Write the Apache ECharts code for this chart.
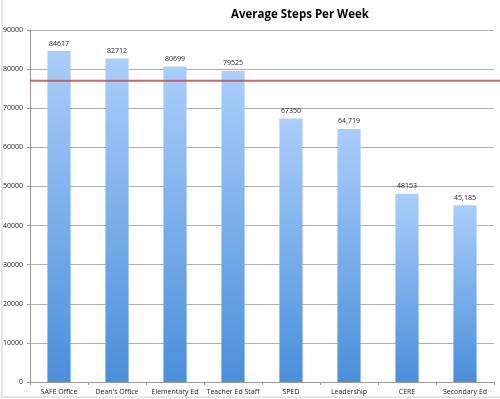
<!DOCTYPE html>
<html><head><meta charset="utf-8">
<script src="https://cdn.jsdelivr.net/npm/echarts@6/dist/echarts.min.js"></script>
<style>html,body{margin:0;padding:0;background:#fff}#c{width:500px;height:399px}</style>
</head><body><div id="c"></div>
<script>
const categories = ["SAFE Office","Dean's Office","Elementary Ed","Teacher Ed Staff","SPED","Leadership","CERE","Secondary Ed"];
const values = [84617, 82712, 80699, 79525, 67350, 64719, 48153, 45185];
const labels = ["84617","82712","80699","79525","67350","64,719","48153","45,185"];
const goal = [77000];
const chart = echarts.init(document.getElementById('c'));
chart.setOption({
  animation:false,
  title:{text:'Average Steps Per Week', left:295, top:4, textAlign:'center',
    textStyle:{fontFamily:'Open Sans', fontWeight:'bold', fontSize:11.5, color:'#000'}},
  grid:{left:30, right:6, top:30, bottom:17, containLabel:false},
  xAxis:{type:'category', data:categories,
    axisLine:{lineStyle:{color:'#999'}},
    axisTick:{show:true, length:3, lineStyle:{color:'#999'}},
    axisLabel:{fontFamily:'Open Sans', fontSize:7, color:'#222', margin:6, interval:0}},
  yAxis:{type:'value', min:0, max:90000, interval:10000,
    axisLine:{show:true, lineStyle:{color:'#999'}},
    axisTick:{show:true, length:3, lineStyle:{color:'#999'}},
    splitLine:{lineStyle:{color:'#b0b0b0'}},
    axisLabel:{fontFamily:'Open Sans', fontSize:7, color:'#222', margin:7, formatter:v=>String(v)}},
  series:[{type:'bar', data:values, barWidth:'40%',
    itemStyle:{color:new echarts.graphic.LinearGradient(0,0,0,1,[{offset:0,color:'#abcefb'},{offset:1,color:'#4a8fda'}])},
    label:{show:true, position:'top', distance:4, fontFamily:'Open Sans', fontSize:7, color:'#222',
      formatter:p=>labels[p.dataIndex]}
  }]
});
const gy = chart.convertToPixel({yAxisIndex:0}, goal[0]);
chart.setOption({
  graphic:[
    {type:'line', shape:{x1:2,y1:0,x2:2,y2:397}, style:{stroke:'#ccc', lineWidth:1}},
    {type:'line', shape:{x1:2,y1:397,x2:500,y2:397}, style:{stroke:'#ccc', lineWidth:1}},
    {type:'line', z:10, shape:{x1:30,y1:gy,x2:500,y2:gy}, style:{stroke:'#c0504d', lineWidth:2, opacity:0.85}}
  ]
});
</script></body></html>
